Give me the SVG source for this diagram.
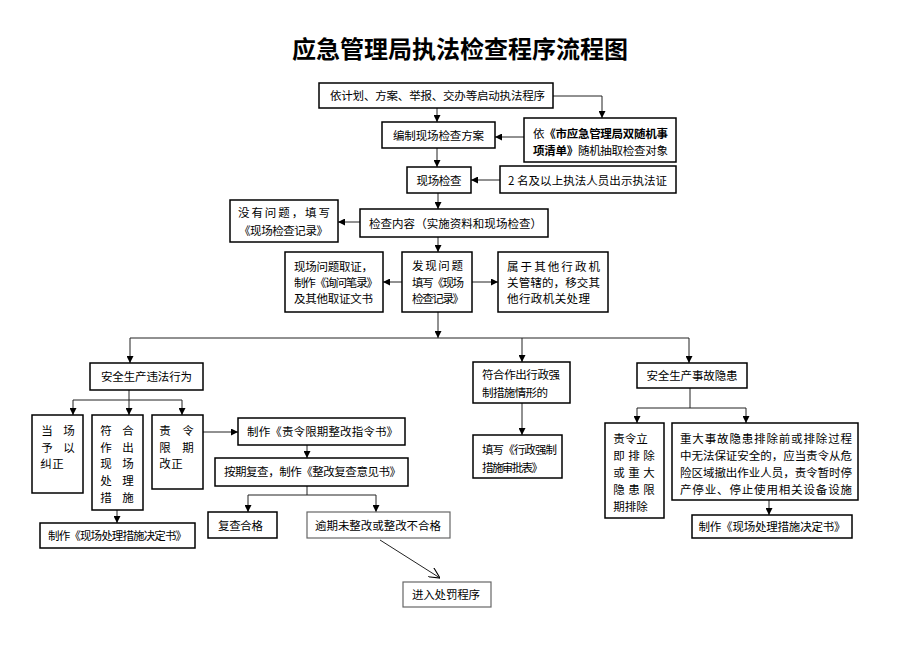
<svg xmlns="http://www.w3.org/2000/svg" width="920" height="651" viewBox="0 0 920 651">
<style>
.b{fill:#fff;stroke:#000;stroke-width:1.5}
.g{fill:#fff;stroke:#666;stroke-width:1.2}
text{font-family:"Noto Sans CJK SC","Noto Sans",sans-serif;font-size:11.5px;fill:#000}
.m{text-anchor:middle}
.c{stroke:#222;stroke-width:1;fill:none}
.a{marker-end:url(#ah)}
</style>
<defs>
<marker id="ah" viewBox="0 0 8 8" refX="8" refY="4" markerWidth="7" markerHeight="7" markerUnits="userSpaceOnUse" orient="auto"><path d="M0,0L8,4L0,8z" fill="#000"/></marker>
<marker id="oa" viewBox="0 0 10 10" refX="10" refY="5" markerWidth="11" markerHeight="11" markerUnits="userSpaceOnUse" orient="auto"><path d="M0,0L10,5L0,10" fill="none" stroke="#000" stroke-width="1"/></marker>
</defs>
<rect width="920" height="651" fill="#fff"/>
<text x="460" y="58" class="m" style="font-size:24px;font-weight:bold">应急管理局执法检查程序流程图</text>

<g id="connectors">
<path class="c a" d="M437,108V122"/>
<path class="c a" d="M553,96H602V118"/>
<path class="c a" d="M524,137H495"/>
<path class="c a" d="M437,148V167"/>
<path class="c a" d="M500,180H471"/>
<path class="c a" d="M438,193V209"/>
<path class="c a" d="M360,222H338"/>
<path class="c a" d="M438,237V252"/>
<path class="c a" d="M402,282H383"/>
<path class="c a" d="M472,282H498"/>
<path class="c a" d="M438,312V338"/>
<path class="c" d="M130,338H689" stroke="#666"/>
<path class="c a" d="M130,338V363"/>
<path class="c a" d="M522,338V362"/>
<path class="c a" d="M689,338V363"/>
<path class="c" d="M129,390V400M73,400H182"/>
<path class="c a" d="M73,400V415"/>
<path class="c a" d="M129,400V415"/>
<path class="c a" d="M182,400V415"/>
<path class="c a" d="M203,432H238"/>
<path class="c a" d="M307,445V458"/>
<path class="c" d="M307,486V495M248,495H376" stroke="#666"/>
<path class="c a" d="M248,495V512"/>
<path class="c a" d="M376,495V512"/>
<path class="c a" d="M117,510V523"/>
<path class="c a" d="M522,403V435"/>
<path class="c" d="M690,388V408M637,408H746"/>
<path class="c a" d="M637,408V423"/>
<path class="c a" d="M746,408V423"/>
<path class="c a" d="M769,500V515"/>
<path class="c" d="M380,540L440,578" marker-end="url(#oa)"/>
</g>

<g id="n1"><rect class="b" x="319" y="83" width="234" height="25"/><text x="437.5" y="100" class="m" textLength="215">依计划、方案、举报、交办等启动执法程序</text></g>
<g id="n2"><rect class="b" x="382" y="122" width="113" height="26"/><text x="438.5" y="139.5" class="m" textLength="91">编制现场检查方案</text></g>
<g id="n3"><rect class="b" x="524" y="118" width="152" height="44"/>
<text x="533" y="137.5" textLength="135">依<tspan font-weight="bold">《市应急管理局双随机事</tspan></text>
<text x="533" y="155" textLength="135"><tspan font-weight="bold">项清单》</tspan>随机抽取检查对象</text></g>
<g id="n4"><rect class="b" x="407" y="167" width="64" height="26"/><text x="439" y="184.5" class="m" textLength="45">现场检查</text></g>
<g id="n5"><rect class="b" x="500" y="166" width="176" height="27"/><text x="587.5" y="184.5" class="m" textLength="159">2 名及以上执法人员出示执法证</text></g>
<g id="n6"><rect class="b" x="230" y="200" width="108" height="42"/>
<text x="238" y="216.5" textLength="92">没有问题，填写</text>
<text x="239" y="234.5" textLength="89">《现场检查记录》</text></g>
<g id="n7"><rect class="b" x="360" y="209" width="188" height="28"/><text x="455.5" y="227.5" class="m" textLength="173">检查内容（实施资料和现场检查）</text></g>
<g id="n8"><rect class="b" x="285" y="252" width="98" height="60"/>
<text x="294" y="270.5" textLength="79">现场问题取证，</text>
<text x="294" y="286.5" textLength="84">制作《询问笔录》</text>
<text x="294" y="302.5" textLength="79">及其他取证文书</text></g>
<g id="n9"><rect class="b" x="402" y="252" width="70" height="60"/>
<text x="412" y="270" textLength="51">发现问题</text>
<text x="412" y="286.5" textLength="52">填写《现场</text>
<text x="412" y="302.5" textLength="52">检查记录》</text></g>
<g id="n10"><rect class="b" x="498" y="252" width="110" height="60"/>
<text x="507" y="270.5" textLength="93">属于其他行政机</text>
<text x="507" y="286.5" textLength="93">关管辖的，移交其</text>
<text x="507" y="302.5" textLength="83">他行政机关处理</text></g>

<g id="n11"><rect class="b" x="90" y="363" width="113" height="27"/><text x="146.5" y="381" class="m" textLength="91">安全生产违法行为</text></g>
<g id="n12"><rect class="b" x="473" y="362" width="97" height="41"/>
<text x="482" y="379" textLength="78">符合作出行政强</text>
<text x="482" y="397" textLength="66">制措施情形的</text></g>
<g id="n13"><rect class="b" x="637" y="363" width="110" height="25"/><text x="692" y="380" class="m" textLength="91">安全生产事故隐患</text></g>

<g id="n14"><rect class="b" x="32" y="415" width="51" height="78"/>
<text x="47 69" y="434.5" class="m">当场</text>
<text x="47 69" y="451.5" class="m">予以</text>
<text x="46 58" y="467.5" class="m">纠正</text></g>
<g id="n15"><rect class="b" x="92" y="415" width="51" height="95"/>
<text x="106 128" y="434.5" class="m">符合</text>
<text x="106 128" y="451.5" class="m">作出</text>
<text x="106 128" y="467.5" class="m">现场</text>
<text x="106 128" y="484.5" class="m">处理</text>
<text x="106 128" y="501.5" class="m">措施</text></g>
<g id="n16"><rect class="b" x="152" y="415" width="51" height="74"/>
<text x="165 188" y="434.5" class="m">责令</text>
<text x="165 188" y="451.5" class="m">限期</text>
<text x="165 177" y="467.5" class="m">改正</text></g>
<g id="n17"><rect class="b" x="238" y="418" width="167" height="27"/><text x="322.5" y="436" class="m" textLength="151">制作《责令限期整改指令书》</text></g>
<g id="n18"><rect class="b" x="215" y="458" width="193" height="28"/><text x="312.5" y="476" class="m" textLength="177">按期复查，制作《整改复查意见书》</text></g>
<g id="n19"><rect class="b" x="208" y="512" width="69" height="26"/><text x="218" y="529.5" textLength="45">复查合格</text></g>
<g id="n20"><rect class="g" x="307" y="512" width="143" height="26"/><text x="378" y="529.5" class="m" textLength="126">逾期未整改或整改不合格</text></g>
<g id="n21"><rect class="g" x="403" y="582" width="88" height="25"/><text x="446" y="599" class="m" textLength="68">进入处罚程序</text></g>
<g id="n22"><rect class="b" x="40" y="523" width="155" height="25"/><text x="117.5" y="540" class="m" textLength="139">制作《现场处理措施决定书》</text></g>

<g id="n23"><rect class="b" x="473" y="435" width="89" height="43"/>
<text x="482" y="453.5" textLength="75">填写《行政强制</text>
<text x="482" y="471.5" textLength="61">措施审批表》</text></g>
<g id="n24"><rect class="b" x="605" y="423" width="59" height="95"/>
<text x="619 630.5 642" y="442.5" class="m">责令立</text>
<text x="619 634 649" y="459.5" class="m">即排除</text>
<text x="619 634 649" y="476.5" class="m">或重大</text>
<text x="619 634 649" y="493.5" class="m">隐患限</text>
<text x="619 630.5 642" y="510.5" class="m">期排除</text></g>
<g id="n25"><rect class="b" x="672" y="423" width="186" height="77"/>
<text x="680" y="442.5" textLength="172">重大事故隐患排除前或排除过程</text>
<text x="680" y="459.5" textLength="172">中无法保证安全的，应当责令从危</text>
<text x="680" y="477" textLength="172">险区域撤出作业人员，责令暂时停</text>
<text x="680" y="493.5" textLength="172">产停业、停止使用相关设备设施</text></g>
<g id="n26"><rect class="b" x="692" y="515" width="160" height="23"/><text x="772" y="531" class="m" textLength="147">制作《现场处理措施决定书》</text></g>
</svg>
